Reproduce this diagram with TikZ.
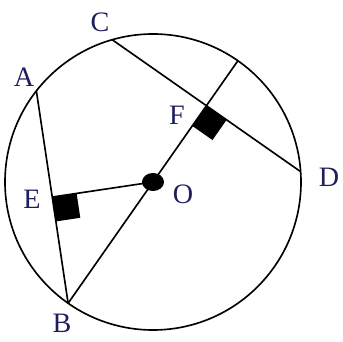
\documentclass[tikz,border=0pt]{standalone}
\usepackage{fontspec}
\setmainfont{Liberation Serif}
\usetikzlibrary{calc}
\definecolor{lblblue}{RGB}{30,30,95}

\begin{document}
\begin{tikzpicture}[x=0.03cm, y=0.03cm,
  chord/.style={line width=1.4pt},
  rightbox/.style={fill=black},
  lbl/.style={text=lblblue, font=\fontsize{24}{24}\selectfont, inner sep=0pt}]

  \useasboundingbox (-153,-159) rectangle (190,182);

  \coordinate (O) at (0,0);
  \coordinate (A) at (142:148);
  \coordinate (B) at (235:148);
  \coordinate (C) at (106:148);
  \coordinate (D) at (4:148);
  \coordinate (T) at (55:148);
  \coordinate (E) at ($(A)!(O)!(B)$);
  \coordinate (F) at ($(C)!(O)!(D)$);

  \draw [chord] (O) circle (148);
  \draw [chord] (A) -- (B);
  \draw [chord] (C) -- (D);
  \draw [chord] (B) -- (T);
  \draw [chord] (E) -- (O);

  % right angles
  \coordinate (e1) at ($(E)!0.74cm!(O)$);
  \coordinate (e2) at ($(E)!0.74cm!(B)$);
  \fill [rightbox] (E) -- (e1) -- ($(e1)+(e2)-(E)$) -- (e2) -- cycle;
  \coordinate (f1) at ($(F)!0.74cm!(O)$);
  \coordinate (f2) at ($(F)!0.74cm!(D)$);
  \fill [rightbox] (F) -- (f1) -- ($(f1)+(f2)-(F)$) -- (f2) -- cycle;

  \fill (O) ellipse (11 and 9);

  \node (labA) [lbl] at (-129,105) {A};
  \node (labB) [lbl] at (-91,-141) {B};
  \node (labC) [lbl] at (-53,160) {C};
  \node (labD) [lbl] at (176,5) {D};
  \node (labE) [lbl] at (-121,-17) {E};
  \node (labF) [lbl] at (24,67) {F};
  \node (labO) [lbl] at (30,-12) {O};
\end{tikzpicture}
\end{document}
